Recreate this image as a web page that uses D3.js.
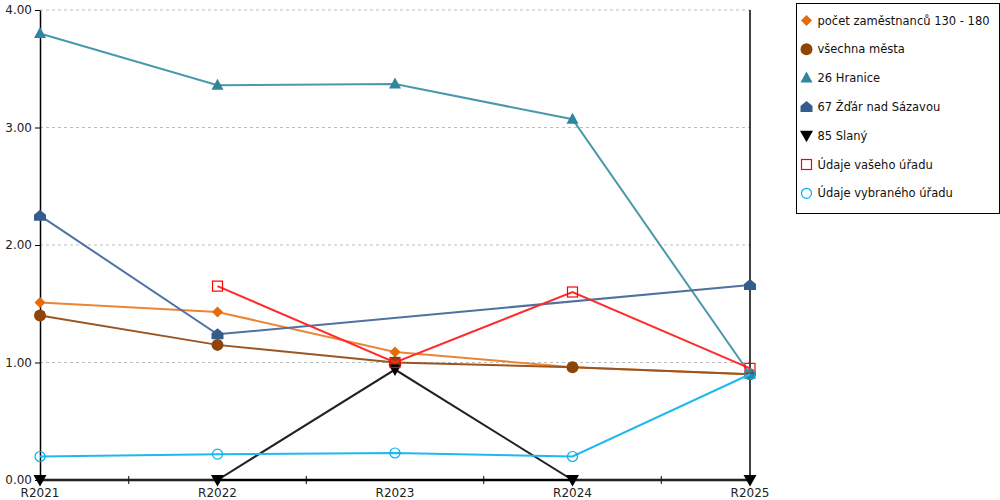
<!DOCTYPE html>
<html>
<head>
<meta charset="utf-8">
<script src="https://cdn.jsdelivr.net/npm/d3@7"></script>
<style>
  body { margin: 0; background: #fff; }
  svg { display: block; font-family: "DejaVu Sans", Verdana, sans-serif; }
</style>
</head>
<body>
<svg id="chart" width="1000" height="500"></svg>
<script>
// Categories and tick labels
const years = ["R2021", "R2022", "R2023", "R2024", "R2025"];
const yTicks = [0, 1, 2, 3, 4];

// Series values (null = no value for that year)
const pocetZamestnancu = [1.51, 1.43, 1.09, 0.96, 0.90];
const vsechnaMesta = [1.40, 1.15, 1.00, 0.96, 0.90];
const hranice = [3.80, 3.36, 3.37, 3.07, 0.90];
const zdarNadSazavou = [2.25, 1.24, null, null, 1.66];
const slany = [0, 0, 0.94, 0, 0];
const vaseUrad = [null, 1.65, 1.00, 1.60, 0.95];
const vybranyUrad = [0.20, 0.22, 0.23, 0.20, 0.90];

const seriesNames = [
    "počet zaměstnanců 130 - 180",
    "všechna města",
    "26 Hranice",
    "67 Žďár nad Sázavou",
    "85 Slaný",
    "Údaje vašeho úřadu",
    "Údaje vybraného úřadu"
];
const seriesValues = [pocetZamestnancu, vsechnaMesta, hranice, zdarNadSazavou, slany, vaseUrad, vybranyUrad];
const seriesColors = ["#E46C0A", "#8E4606", "#31859C", "#345C8C", "#000000", "#FF0000", "#00B0F0"];
const lineColors = ["#EB8533", "#9A5522", "#4A98AC", "#4F72A0", "#222222", "#FF2A2A", "#20B8F0"];
const markerShapes = ["diamond", "circle", "triangle", "house", "down", "square", "ring"];

// Chart area
const plotLeft = 40, plotRight = 750, plotTop = 10, plotBottom = 480;

const svg = d3.select("#chart");

const x = d3.scalePoint()
    .domain(years)
    .range([plotLeft, plotRight]);

const y = d3.scaleLinear()
    .domain([0, 4])
    .range([plotBottom, plotTop]);

// Horizontal dashed grid lines
svg.append("g")
    .selectAll("line")
    .data(yTicks.filter(d => d > 0))
    .enter()
    .append("line")
    .attr("x1", plotLeft)
    .attr("x2", plotRight)
    .attr("y1", d => y(d))
    .attr("y2", d => y(d))
    .attr("stroke", "#bdbdbd")
    .attr("stroke-dasharray", "3,3");

// Y axis
const yAxis = svg.append("g")
    .attr("transform", `translate(${plotLeft},0)`)
    .call(d3.axisLeft(y).tickValues(yTicks).tickFormat(d3.format(".2f")).tickSize(5).tickSizeOuter(0));
yAxis.select(".domain").attr("stroke", "#000").attr("stroke-width", 1.5);
yAxis.selectAll(".tick line").attr("stroke", "#000");
yAxis.selectAll(".tick text")
    .attr("x", -8)
    .style("font-size", "12px")
    .style("font-family", "DejaVu Sans, sans-serif")
    .attr("fill", "#222");

// Right border line
svg.append("line")
    .attr("x1", plotRight).attr("x2", plotRight)
    .attr("y1", plotTop).attr("y2", plotBottom)
    .attr("stroke", "#000")
    .attr("stroke-width", 1.5);

// X axis
svg.append("line")
    .attr("x1", plotLeft).attr("x2", plotRight)
    .attr("y1", plotBottom).attr("y2", plotBottom)
    .attr("stroke", "#000")
    .attr("stroke-width", 2.5);

// Tick marks between the categories
const step = x.step();
svg.append("g")
    .selectAll("line")
    .data(years.slice(0, -1))
    .enter()
    .append("line")
    .attr("x1", d => x(d) + step / 2)
    .attr("x2", d => x(d) + step / 2)
    .attr("y1", plotBottom - 4)
    .attr("y2", plotBottom + 4)
    .attr("stroke", "#000");

svg.append("g")
    .selectAll("text")
    .data(years)
    .enter()
    .append("text")
    .attr("x", d => x(d))
    .attr("y", plotBottom + 17)
    .attr("text-anchor", "middle")
    .style("font-size", "12px")
    .attr("fill", "#222")
    .text(d => d);

// Marker drawing helper
function drawMarker(g, shape, color) {
    switch (shape) {
        case "diamond":
            g.append("path").attr("d", "M0,-5.5L5.5,0L0,5.5L-5.5,0Z").attr("fill", color);
            break;
        case "circle":
            g.append("circle").attr("r", 6).attr("fill", color);
            break;
        case "triangle":
            g.append("path").attr("d", "M0,-6.5L6,4.5L-6,4.5Z").attr("fill", color);
            break;
        case "house":
            g.append("path").attr("d", "M0,-6L6,-1L6,5L-6,5L-6,-1Z").attr("fill", color);
            break;
        case "down":
            g.append("path").attr("d", "M-6.5,-5L6.5,-5L0,6.5Z").attr("fill", color);
            break;
        case "square":
            g.append("rect").attr("x", -5).attr("y", -5).attr("width", 10).attr("height", 10)
                .attr("fill", "none").attr("stroke", color).attr("stroke-width", 1.2);
            break;
        case "ring":
            g.append("circle").attr("r", 5).attr("fill", "none")
                .attr("stroke", color).attr("stroke-width", 1.2);
            break;
    }
}

// Series lines and markers
const line = d3.line()
    .x(d => x(d.year))
    .y(d => y(d.value));

seriesValues.forEach((values, i) => {
    const points = years
        .map((year, j) => ({ year, value: values[j] }))
        .filter(d => d.value !== null);

    svg.append("path")
        .datum(points)
        .attr("d", line)
        .attr("fill", "none")
        .attr("stroke", lineColors[i])
        .attr("stroke-width", 2);

    svg.append("g")
        .selectAll("g")
        .data(points)
        .enter()
        .append("g")
        .attr("transform", d => `translate(${x(d.year)},${y(d.value)})`)
        .each(function() { drawMarker(d3.select(this), markerShapes[i], seriesColors[i]); });
});

// Legend
const legendGroup = svg.append("g")
    .attr("transform", "translate(796.5,3.5)");

legendGroup.append("rect")
    .attr("width", 203)
    .attr("height", 210)
    .attr("fill", "#fff")
    .attr("stroke", "#000");

const legend = legendGroup.selectAll(".legend")
    .data(seriesNames)
    .enter()
    .append("g")
    .attr("class", "legend")
    .attr("transform", (d, i) => `translate(0,${17 + i * 28.8})`);

legend.append("g")
    .attr("transform", "translate(10,0)")
    .each(function(d, i) { drawMarker(d3.select(this), markerShapes[i], seriesColors[i]); });

legend.append("text")
    .attr("x", 21)
    .attr("y", 0)
    .attr("dy", ".35em")
    .style("font-size", "11.5px")
    .attr("fill", "#111")
    .text(d => d);
</script>
</body>
</html>
